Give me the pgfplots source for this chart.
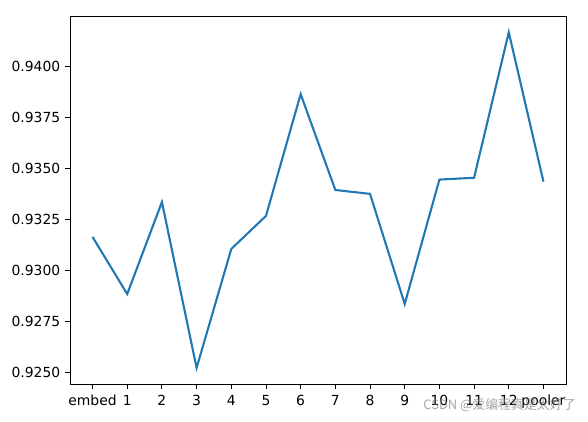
\documentclass[border=0pt]{standalone}
\usepackage{pgfplots}
\pgfplotsset{compat=1.18}
\usepackage{fontspec}
\setmainfont{DejaVu Sans}
\newfontfamily\cjk{Noto Sans CJK SC}
\definecolor{tabblue}{HTML}{1F77B4}
\begin{document}
\begin{tikzpicture}
\useasboundingbox (-50.4pt,-27.36pt) rectangle (372.96pt,276.48pt);
\begin{axis}[
  at={(0,0)}, anchor=south west,
  scale only axis,
  width=357.12pt, height=264.96pt,
  xmin=-0.65, xmax=13.65,
  ymin=0.92441, ymax=0.94245,
  xtick={0,...,13},
  xticklabels={embed,1,2,3,4,5,6,7,8,9,10,11,12,pooler},
  ytick={0.925,0.9275,0.93,0.9325,0.935,0.9375,0.94},
  yticklabel style={/pgf/number format/.cd,fixed,fixed zerofill,precision=4},
  scaled y ticks=false,
  /pgf/number format/assume math mode=true,
  tick align=outside,
  tick pos=left,
  major tick length=3.5pt,
  tick style={black, line width=0.6pt},
  axis line style={line width=0.6pt},
  ticklabel style={font=\fontsize{10}{12}\selectfont},
  xticklabel style={yshift=-1pt},
]
\addplot[tabblue, line width=1.5pt] coordinates {
(0,0.93162) (1,0.92882) (2,0.93333) (3,0.92520) (4,0.93103) (5,0.93265) (6,0.93862)
(7,0.93392) (8,0.93373) (9,0.92833) (10,0.93443) (11,0.93452) (12,0.94165) (13,0.93433)
};
\end{axis}
\node[text=gray, opacity=0.7, font=\cjk\fontsize{9.3}{11}\selectfont] at (309.3pt,-15.4pt) {CSDN @爱编程真是太好了};
\end{tikzpicture}
\end{document}
